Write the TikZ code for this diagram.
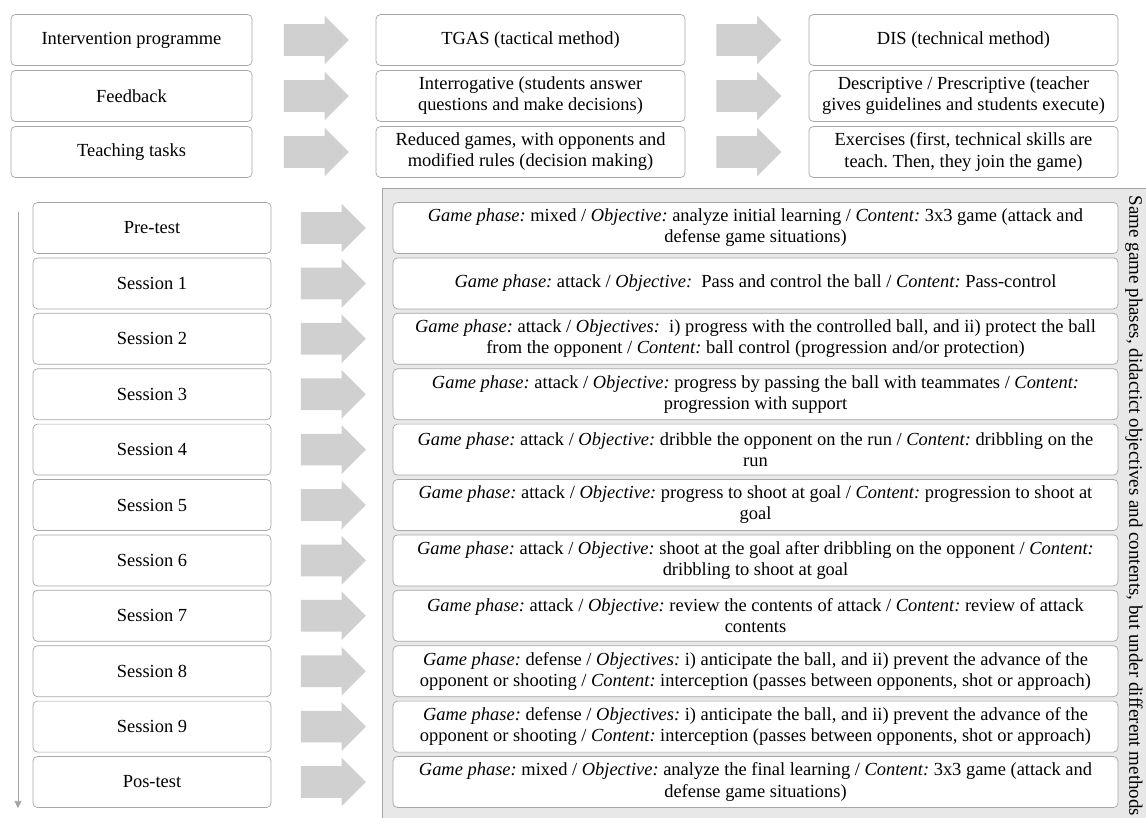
\documentclass[tikz,border=0pt]{standalone}
\usepackage{fontspec}
\setmainfont{Liberation Serif}
\usetikzlibrary{shapes.arrows, arrows.meta}

\definecolor{boxline}{HTML}{A6A6A6}
\definecolor{arrowfill}{HTML}{D0D0D0}
\definecolor{panelfill}{HTML}{E8E8E8}

\tikzset{
    box/.style={draw=boxline, fill=white, rounded corners=2.5pt, align=center,
        inner sep=1pt, minimum height=1.02cm, font=\fontsize{10.5}{12}\selectfont},
    headbox/.style={box, minimum width=4.82cm},
    methodbox/.style={box, minimum width=6.18cm},
    sessionbox/.style={box, minimum width=4.76cm},
    contentbox/.style={box, minimum width=14.5cm},
    bigarrow/.style={single arrow, fill=arrowfill, draw=none, inner xsep=0pt, inner ysep=0.31cm,
        minimum height=1.3cm, minimum width=0.96cm, single arrow head extend=0.17cm},
}

\begin{document}
\frenchspacing
\begin{tikzpicture}[x=0.02cm, y=-0.02cm]
    \useasboundingbox (0, 0) rectangle (1146, 818);
    \clip (0, 0) rectangle (1146, 818);

    % methods
    \node[headbox] (prog) at (131.5, 40) {Intervention programme};
    \node[headbox] (feed) at (131.5, 96) {Feedback};
    \node[headbox] (tasks) at (131.5, 152) {Teaching tasks};

    \node[methodbox] (tgas) at (530.5, 40) {TGAS (tactical method)};
    \node[methodbox] (tgasfeed) at (530.5, 96) {Interrogative (students answer\\questions and make decisions)};
    \node[methodbox] (tgastasks) at (530.5, 152) {Reduced games, with opponents and\\modified rules (decision making)};

    \node[methodbox] (dis) at (963.5, 40) {DIS (technical method)};
    \node[methodbox] (disfeed) at (963.5, 96) {Descriptive / Prescriptive (teacher\\gives guidelines and students execute)};
    \node[methodbox] (distasks) at (963.5, 152) {Exercises (first, technical skills are\\teach. Then, they join the game)};

    \node[bigarrow] (a1) at (308.5, 40) {};
    \node[bigarrow] (a2) at (308.5, 96) {};
    \node[bigarrow] (a3) at (308.5, 152) {};
    \node[bigarrow] (b1) at (741, 40) {};
    \node[bigarrow] (b2) at (741, 96) {};
    \node[bigarrow] (b3) at (741, 152) {};

    % sessions
    \draw[draw=boxline, fill=panelfill] (382, 188) rectangle (1160, 830);

    \coordinate (tstart) at (18, 212);
    \coordinate (tend) at (18, 808);
    \draw[boxline, -{Triangle[length=4pt, width=4pt]}] (tstart) -- (tend);

    \node[sessionbox] (pre) at (152, 228) {Pre-test};
    \node[sessionbox] (s1) at (152, 283.4) {Session 1};
    \node[sessionbox] (s2) at (152, 338.8) {Session 2};
    \node[sessionbox] (s3) at (152, 394.2) {Session 3};
    \node[sessionbox] (s4) at (152, 449.6) {Session 4};
    \node[sessionbox] (s5) at (152, 505) {Session 5};
    \node[sessionbox] (s6) at (152, 560.4) {Session 6};
    \node[sessionbox] (s7) at (152, 615.8) {Session 7};
    \node[sessionbox] (s8) at (152, 671.2) {Session 8};
    \node[sessionbox] (s9) at (152, 726.6) {Session 9};
    \node[sessionbox] (pos) at (152, 782) {Pos-test};

    \foreach \y in {228, 283.4, 338.8, 394.2, 449.6, 505, 560.4, 615.8, 671.2, 726.6, 782}
        \node[bigarrow] at (325.5, \y) {};

    \node[contentbox] (cpre) at (755.5, 228) {\textit{Game phase:} mixed / \textit{Objective:} analyze initial learning / \textit{Content:} 3x3 game (attack and\\defense game situations)};
    \node[contentbox] (c1) at (755.5, 283.4) {\textit{Game phase:} attack / \textit{Objective:}\ \ Pass and control the ball / \textit{Content:} Pass-control};
    \node[contentbox] (c2) at (755.5, 338.8) {\textit{Game phase:} attack / \textit{Objectives:}\ \ i) progress with the controlled ball, and ii) protect the ball\\from the opponent / \textit{Content:} ball control (progression and/or protection)};
    \node[contentbox] (c3) at (755.5, 394.2) {\textit{Game phase:} attack / \textit{Objective:} progress by passing the ball with teammates / \textit{Content:}\\progression with support};
    \node[contentbox] (c4) at (755.5, 449.6) {\textit{Game phase:} attack / \textit{Objective:} dribble the opponent on the run / \textit{Content:} dribbling on the\\run};
    \node[contentbox] (c5) at (755.5, 505) {\textit{Game phase:} attack / \textit{Objective:} progress to shoot at goal / \textit{Content:} progression to shoot at\\goal};
    \node[contentbox] (c6) at (755.5, 560.4) {\textit{Game phase:} attack / \textit{Objective:} shoot at the goal after dribbling on the opponent / \textit{Content:}\\dribbling to shoot at goal};
    \node[contentbox] (c7) at (755.5, 615.8) {\textit{Game phase:} attack / \textit{Objective:} review the contents of attack / \textit{Content:} review of attack\\contents};
    \node[contentbox] (c8) at (755.5, 671.2) {\textit{Game phase:} defense / \textit{Objectives:} i) anticipate the ball, and ii) prevent the advance of the\\opponent or shooting / \textit{Content:} interception (passes between opponents,\ shot or approach)};
    \node[contentbox] (c9) at (755.5, 726.6) {\textit{Game phase:} defense / \textit{Objectives:} i) anticipate the ball, and ii) prevent the advance of the\\opponent or shooting / \textit{Content:} interception (passes between opponents,\ shot or approach)};
    \node[contentbox] (cpos) at (755.5, 782) {\textit{Game phase:} mixed / \textit{Objective:} analyze the final learning / \textit{Content:} 3x3 game (attack and\\defense game situations)};

    \node[rotate=-90, font=\fontsize{10.8}{12}\selectfont] (same) at (1134, 506) {Same game phases, didactict objectives and contents, but under different methods};
\end{tikzpicture}
\end{document}
